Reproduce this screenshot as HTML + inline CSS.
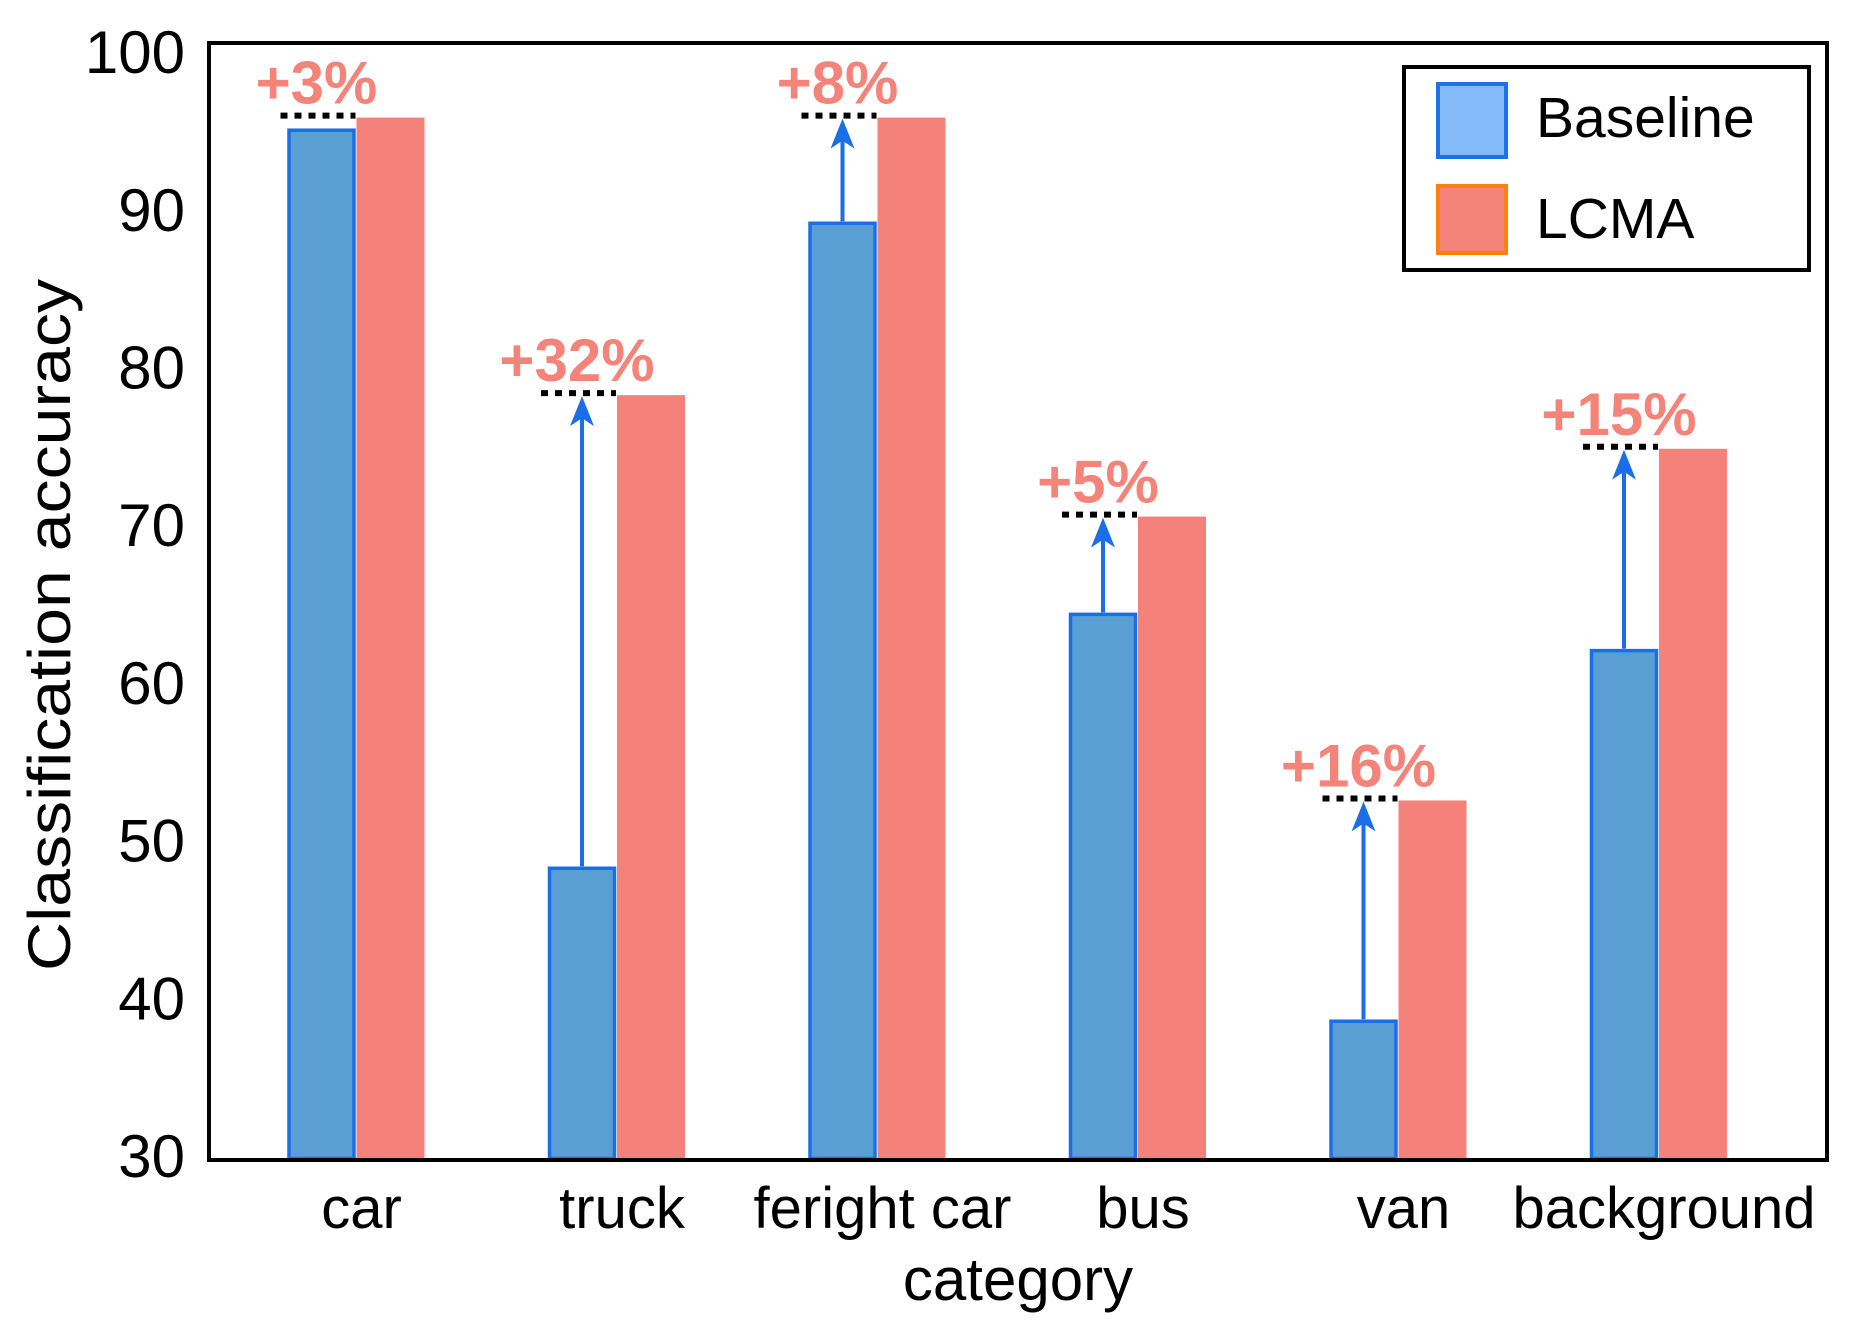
<!DOCTYPE html>
<html><head><meta charset="utf-8"><style>
html,body{margin:0;padding:0;background:#fff;}
svg{display:block;font-family:"Liberation Sans",Arial,sans-serif;}
</style></head><body>
<svg id="chart" width="1852" height="1326" viewBox="0 0 1852 1326">
<g id="marks"></g>
<rect x="209" y="43" width="1618" height="1117" fill="none" stroke="#000" stroke-width="4"/>
<g id="yticks"></g>
<g id="xticks"></g>
<text x="1018" y="1300" font-size="60" text-anchor="middle">category</text>
<text transform="translate(70,625) rotate(-90)" font-size="60" text-anchor="middle" textLength="692" lengthAdjust="spacingAndGlyphs">Classification accuracy</text>
<g>
<rect x="1404" y="67" width="405" height="203" fill="#fff" stroke="#000" stroke-width="4"/>
<rect x="1438" y="84" width="68" height="73" fill="#85baf8" stroke="#1a73e8" stroke-width="4"/>
<text x="1536" y="137" font-size="57">Baseline</text>
<rect x="1438" y="186" width="68" height="67" fill="#f4837a" stroke="#ff7f0e" stroke-width="4"/>
<text x="1536" y="238" font-size="57">LCMA</text>
</g>
</svg>
<script>
const categories = ["car","truck","feright car","bus","van","background"];
const baseline = [95.3, 48.5, 89.4, 64.6, 38.8, 62.3];
const lcma = [96.1, 78.5, 96.1, 70.8, 52.8, 75.1];
const gains = ["+3%","+32%","+8%","+5%","+16%","+15%"];
const yTicks = [30,40,50,60,70,80,90,100];

const NS="http://www.w3.org/2000/svg";
const Y0=1160, PXU=15.77, VMIN=30;
function y(v){return Y0-(v-VMIN)*PXU;}
const firstCenter=355.5, step=260.5, barW=68;
function xc(i){return firstCenter+i*step;}
function mk(tag,attrs,parent){const e=document.createElementNS(NS,tag);for(const k in attrs)e.setAttribute(k,attrs[k]);parent.appendChild(e);return e;}
const marks=document.getElementById('marks');
const yt=document.getElementById('yticks');
const xt=document.getElementById('xticks');
yTicks.forEach(t=>{
  const e=mk('text',{x:185,y:y(t)+17,'font-size':60,'text-anchor':'end'},yt);
  e.textContent=t;
  
  
});
categories.forEach((c,i)=>{
  const cx=xc(i);
  const b=mk('rect',{x:cx-barW+1.5,y:y(baseline[i]),width:barW-3,height:Y0-y(baseline[i])-1.5,fill:'#5a9fd4',stroke:'#1a6fe8','stroke-width':3.5},marks);
  
  
  const l=mk('rect',{x:cx+1,y:y(lcma[i]),width:barW,height:Y0-y(lcma[i])-2,fill:'#f5827a'},marks);
  
  
  const ly=y(lcma[i])-2;
  const d=mk('line',{x1:cx-barW-7,x2:cx,y1:ly,y2:ly,stroke:'#000','stroke-width':6,'stroke-dasharray':'7 7'},marks);
  
  
  if(y(baseline[i])-ly>40){
    const ax=cx-barW/2, top=ly+3;
    const a=mk('line',{x1:ax,x2:ax,y1:y(baseline[i])-2,y2:top+20,stroke:'#1a6fe8','stroke-width':4},marks);
    
    
    const h=mk('path',{d:`M${ax} ${top} L${ax+12} ${top+30} L${ax} ${top+22} L${ax-12} ${top+30} Z`,fill:'#1a6fe8'},marks);
    
    
  }
  const g=mk('text',{x:cx-barW/2-5,y:ly-12,'font-size':60,'font-weight':'bold',fill:'#f4837a','text-anchor':'middle'},marks);
  g.textContent=gains[i];
  
  
  const xl=mk('text',{x:cx+6,y:1228,'font-size':58,'text-anchor':'middle'},xt);
  xl.textContent=c;
  
  
});
</script>
</body></html>
